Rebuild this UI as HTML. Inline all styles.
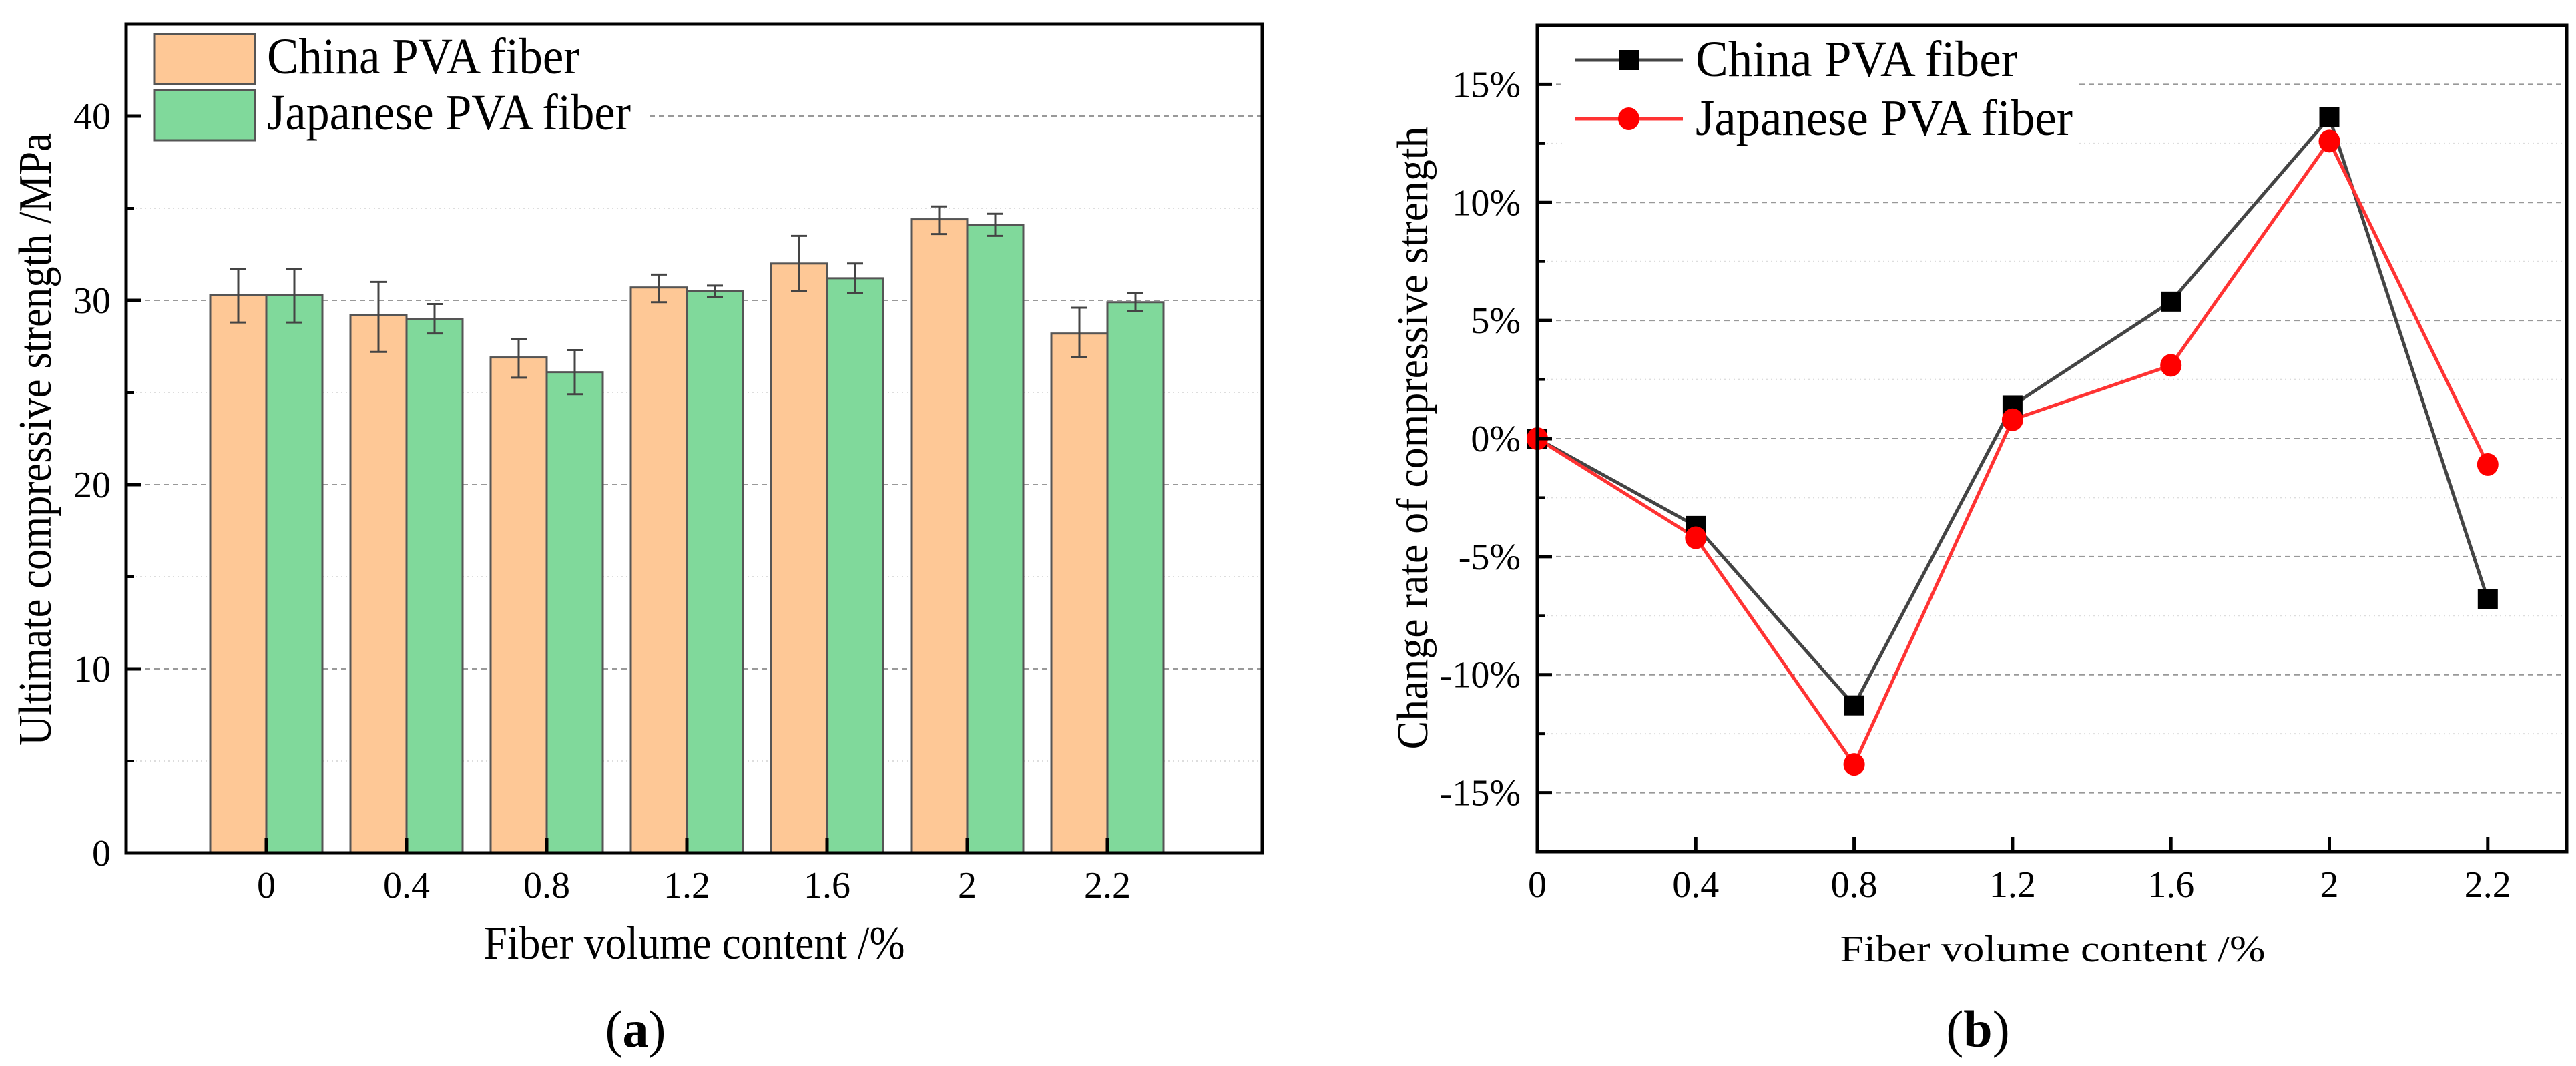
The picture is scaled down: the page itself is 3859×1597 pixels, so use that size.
<!DOCTYPE html>
<html><head><meta charset="utf-8">
<style>
html,body{margin:0;padding:0;background:#fff;}
svg{display:block;}
text{font-family:"Liberation Serif",serif;fill:#000;}
</style></head>
<body>
<svg id="chart" width="3859" height="1597" viewBox="0 0 3859 1597" xmlns="http://www.w3.org/2000/svg">
<g id="left"></g>
<g id="right"></g>
<text x="952" y="1568" font-size="78" text-anchor="middle">(<tspan font-weight="bold">a</tspan>)</text>
<text x="2963" y="1568" font-size="78" text-anchor="middle">(<tspan font-weight="bold">b</tspan>)</text>
</svg>
<script>
const categories = ["0","0.4","0.8","1.2","1.6","2","2.2"];
const chinaStrength = [30.3, 29.2, 26.9, 30.7, 32.0, 34.4, 28.2];
const chinaLow = [28.8, 27.2, 25.8, 29.9, 30.5, 33.6, 26.9];
const chinaHigh = [31.7, 31.0, 27.9, 31.4, 33.5, 35.1, 29.6];
const japanStrength = [30.3, 29.0, 26.1, 30.5, 31.2, 34.1, 29.9];
const japanLow = [28.8, 28.2, 24.9, 30.2, 30.4, 33.5, 29.4];
const japanHigh = [31.7, 29.8, 27.3, 30.8, 32.0, 34.7, 30.4];
const leftYTicks = [0, 10, 20, 30, 40];
const leftYMinor = [5, 15, 25, 35];
const chinaRate = [0, -3.7, -11.3, 1.4, 5.8, 13.6, -6.8];
const japanRate = [0, -4.2, -13.8, 0.8, 3.1, 12.6, -1.1];
const rightYTicks = [-15, -10, -5, 0, 5, 10, 15];
const rightYMinor = [-12.5, -7.5, -2.5, 2.5, 7.5, 12.5];

const NS = "http://www.w3.org/2000/svg";
function mk(parent, tag, attrs, txt){
  const e = document.createElementNS(NS, tag);
  for (const k in attrs) e.setAttribute(k, attrs[k]);
  if (txt !== undefined) e.textContent = txt;
  parent.appendChild(e);
  return e;
}

/* ---------- Left bar chart ---------- */
(function(){
  const g = document.getElementById('left');
  const L = 189, R = 1891, T = 36, B = 1278;
  const yMin = 0, yMax = 45;
  const y = v => B - (v - yMin) / (yMax - yMin) * (B - T);
  const x = i => 399 + i * 210;
  const bw = 84;
  leftYMinor.forEach(v => {
    const l = mk(g, 'line', {x1:L, x2:R, y1:y(v), y2:y(v), stroke:'#ddd', 'stroke-width':2, 'stroke-dasharray':'2 5'});
    
    
  });
  leftYTicks.forEach(v => {
    if (v === 0) return;
    const l = mk(g, 'line', {x1:L, x2:R, y1:y(v), y2:y(v), stroke:'#999', 'stroke-width':2, 'stroke-dasharray':'8 6'});
    
    
  });
  const lb = mk(g, 'rect', {x:200, y:44, width:770, height:176, fill:'#fff'});
  
  
  categories.forEach((c, i) => {
    const b1 = mk(g, 'rect', {x:x(i)-bw, y:y(chinaStrength[i]), width:bw, height:y(0)-y(chinaStrength[i]), fill:'#fec896', stroke:'#555', 'stroke-width':3});
    
    
    const b2 = mk(g, 'rect', {x:x(i), y:y(japanStrength[i]), width:bw, height:y(0)-y(japanStrength[i]), fill:'#80d99b', stroke:'#555', 'stroke-width':3});
    
    
    [[x(i)-bw/2, chinaLow[i], chinaHigh[i], 'china'], [x(i)+bw/2, japanLow[i], japanHigh[i], 'japanese']].forEach(e => {
      const eg = mk(g, 'g', {stroke:'#444', 'stroke-width':3});
      
      
      mk(eg, 'line', {x1:e[0], x2:e[0], y1:y(e[1]), y2:y(e[2])});
      mk(eg, 'line', {x1:e[0]-12, x2:e[0]+12, y1:y(e[1]), y2:y(e[1])});
      mk(eg, 'line', {x1:e[0]-12, x2:e[0]+12, y1:y(e[2]), y2:y(e[2])});
    });
    const tk = mk(g, 'line', {x1:x(i), x2:x(i), y1:B, y2:B-22, stroke:'#000', 'stroke-width':5});
    
    
    const tl = mk(g, 'text', {x:x(i), y:1345, 'font-size':56, 'text-anchor':'middle'}, c);
    
    
  });
  leftYTicks.forEach(v => {
    const tk = mk(g, 'line', {x1:L, x2:L+22, y1:y(v), y2:y(v), stroke:'#000', 'stroke-width':5});
    
    
    const tl = mk(g, 'text', {x:166, y:y(v)+19, 'font-size':56, 'text-anchor':'end'}, String(v));
    
    
  });
  leftYMinor.forEach(v => {
    const tk = mk(g, 'line', {x1:L, x2:L+12, y1:y(v), y2:y(v), stroke:'#000', 'stroke-width':4});
    
    
  });
  const fr = mk(g, 'rect', {x:L, y:T, width:R-L, height:B-T, fill:'none', stroke:'#000', 'stroke-width':5});
  
  
  const s1 = mk(g, 'rect', {x:231, y:51, width:151, height:75, fill:'#fec896', stroke:'#555', 'stroke-width':3});
  
  
  const s2 = mk(g, 'rect', {x:231, y:135, width:151, height:75, fill:'#80d99b', stroke:'#555', 'stroke-width':3});
  
  
  const t1 = mk(g, 'text', {x:400, y:110, 'font-size':76, textLength:468, lengthAdjust:'spacingAndGlyphs'}, 'China PVA fiber');
  
  
  const t2 = mk(g, 'text', {x:400, y:194, 'font-size':76, textLength:545, lengthAdjust:'spacingAndGlyphs'}, 'Japanese PVA fiber');
  
  
  const xt = mk(g, 'text', {x:1040, y:1436, 'font-size':70, 'text-anchor':'middle', textLength:631, lengthAdjust:'spacingAndGlyphs'}, 'Fiber volume content /%');
  
  
  const yt = mk(g, 'text', {x:0, y:0, 'font-size':70, 'text-anchor':'middle', transform:'translate(76,658) rotate(-90)', textLength:918, lengthAdjust:'spacingAndGlyphs'}, 'Ultimate compressive strength /MPa');
  
  
})();

/* ---------- Right line chart ---------- */
(function(){
  const g = document.getElementById('right');
  const L = 2303, R = 3845, T = 38, B = 1276;
  const yMin = -17.5, yMax = 17.5;
  const y = v => B - (v - yMin) / (yMax - yMin) * (B - T);
  const x = i => L + i * 237.3;
  rightYMinor.forEach(v => {
    const l = mk(g, 'line', {x1:L, x2:R, y1:y(v), y2:y(v), stroke:'#ddd', 'stroke-width':2, 'stroke-dasharray':'2 5'});
    
    
  });
  rightYTicks.forEach(v => {
    const l = mk(g, 'line', {x1:L, x2:R, y1:y(v), y2:y(v), stroke:'#999', 'stroke-width':2, 'stroke-dasharray':'8 6'});
    
    
  });
  const lb = mk(g, 'rect', {x:2345, y:44, width:770, height:180, fill:'#fff'});
  
  
  const mkPts = arr => arr.map((v, i) => x(i) + ',' + y(v)).join(' ');
  const l1 = mk(g, 'polyline', {points:mkPts(chinaRate), fill:'none', stroke:'#444', 'stroke-width':5});
  
  
  const l2 = mk(g, 'polyline', {points:mkPts(japanRate), fill:'none', stroke:'#ff3333', 'stroke-width':5});
  
  
  chinaRate.forEach((v, i) => {
    const m = mk(g, 'rect', {x:x(i)-15, y:y(v)-15, width:30, height:30, fill:'#000'});
    
    
  });
  japanRate.forEach((v, i) => {
    const m = mk(g, 'ellipse', {cx:x(i), cy:y(v), rx:16, ry:17, fill:'#ff0000'});
    
    
  });
  categories.forEach((c, i) => {
    const tk = mk(g, 'line', {x1:x(i), x2:x(i), y1:B, y2:B-22, stroke:'#000', 'stroke-width':5});
    
    
    const tl = mk(g, 'text', {x:x(i), y:1344, 'font-size':56, 'text-anchor':'middle'}, c);
    
    
  });
  rightYTicks.forEach(v => {
    const tk = mk(g, 'line', {x1:L, x2:L+22, y1:y(v), y2:y(v), stroke:'#000', 'stroke-width':5});
    
    
    const tl = mk(g, 'text', {x:2278, y:y(v)+19, 'font-size':56, 'text-anchor':'end'}, v + '%');
    
    
  });
  rightYMinor.forEach(v => {
    const tk = mk(g, 'line', {x1:L, x2:L+12, y1:y(v), y2:y(v), stroke:'#000', 'stroke-width':4});
    
    
  });
  const fr = mk(g, 'rect', {x:L, y:T, width:R-L, height:B-T, fill:'none', stroke:'#000', 'stroke-width':5});
  
  
  const lg1 = mk(g, 'line', {x1:2360, x2:2521, y1:90, y2:90, stroke:'#444', 'stroke-width':5});
  
  
  const lm1 = mk(g, 'rect', {x:2425, y:75, width:30, height:30, fill:'#000'});
  
  
  const lg2 = mk(g, 'line', {x1:2360, x2:2521, y1:178, y2:178, stroke:'#ff3333', 'stroke-width':5});
  
  
  const lm2 = mk(g, 'ellipse', {cx:2440, cy:178, rx:16, ry:17, fill:'#ff0000'});
  
  
  const t1 = mk(g, 'text', {x:2540, y:114, 'font-size':76, textLength:482, lengthAdjust:'spacingAndGlyphs'}, 'China PVA fiber');
  
  
  const t2 = mk(g, 'text', {x:2540, y:202, 'font-size':76, textLength:565, lengthAdjust:'spacingAndGlyphs'}, 'Japanese PVA fiber');
  
  
  const xt = mk(g, 'text', {x:3075, y:1440, 'font-size':56, 'text-anchor':'middle', textLength:637, lengthAdjust:'spacingAndGlyphs'}, 'Fiber volume content /%');
  
  
  const yt = mk(g, 'text', {x:0, y:0, 'font-size':66, 'text-anchor':'middle', transform:'translate(2138,656) rotate(-90)', textLength:933, lengthAdjust:'spacingAndGlyphs'}, 'Change rate of compressive strength');
  
  
})();
</script>
</body></html>
